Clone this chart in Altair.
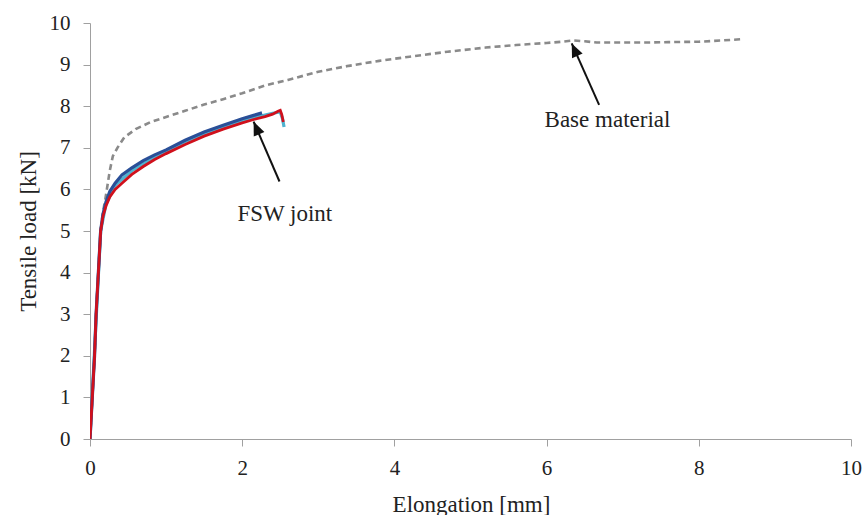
import math
import altair as alt
import pandas as pd

# ---- data ----
base_x = [0, 0.03, 0.06, 0.08, 0.11, 0.14, 0.17, 0.20, 0.23, 0.26, 0.30, 0.36, 0.45, 0.6, 0.8, 1.0,
          1.25, 1.5, 1.75, 2.0, 2.3, 2.6, 3.0, 3.4, 3.8, 4.2, 4.7, 5.2, 5.6, 6.0, 6.2, 6.35,
          6.5, 6.66, 7.0, 7.3, 7.6, 8.0, 8.3, 8.56]
base_y = [0, 1, 2, 3, 4, 5, 5.45, 5.75, 6.1, 6.45, 6.8, 7.0, 7.25, 7.45, 7.62, 7.74,
          7.89, 8.04, 8.17, 8.31, 8.5, 8.63, 8.83, 8.97, 9.09, 9.19, 9.31, 9.41, 9.47, 9.52, 9.55, 9.58,
          9.56, 9.53, 9.53, 9.53, 9.54, 9.55, 9.58, 9.61]

cyan_x = [0, 0.14, 0.21, 0.33, 0.55, 0.85, 1.25, 1.75, 2.15, 2.4, 2.5, 2.53, 2.55]
cyan_y = [0, 5, 5.65, 6.1, 6.45, 6.78, 7.15, 7.5, 7.72, 7.83, 7.86, 7.7, 7.5]

blue_x = [0, 0.03, 0.06, 0.08, 0.11, 0.14, 0.17, 0.21, 0.26, 0.33, 0.42, 0.55, 0.7, 0.85, 1.0,
          1.25, 1.5, 1.75, 2.0, 2.15, 2.26]
blue_y = [0, 1, 2, 3, 4, 5, 5.4, 5.7, 5.95, 6.15, 6.35, 6.52, 6.69, 6.83, 6.95,
          7.18, 7.38, 7.54, 7.7, 7.78, 7.84]

red_x = [0, 0.03, 0.06, 0.08, 0.11, 0.14, 0.17, 0.21, 0.26, 0.33, 0.42, 0.55, 0.7, 0.85, 1.0,
         1.25, 1.5, 1.75, 2.0, 2.15, 2.3, 2.4, 2.47, 2.5, 2.52, 2.54]
red_y = [0, 1, 2, 3, 4, 5, 5.35, 5.6, 5.82, 6.0, 6.15, 6.36, 6.55, 6.72, 6.86,
         7.08, 7.28, 7.45, 7.6, 7.68, 7.75, 7.81, 7.88, 7.9, 7.8, 7.62]

# annotations: label, text x/y, arrow tail x/y, arrow head x/y (data units)
ann_labels = ["FSW joint", "Base material"]
ann_text_x = [2.56, 6.80]
ann_text_y = [5.25, 7.50]
ann_tail_x = [2.49, 6.69]
ann_tail_y = [6.19, 8.03]
ann_head_x = [2.15, 6.33]
ann_head_y = [7.63, 9.51]

W, H = 761, 416
FONT = "Liberation Serif"

xs = alt.Scale(domain=[0, 10], nice=False)
ys = alt.Scale(domain=[0, 10], nice=False)


def series_df(xv, yv):
    return pd.DataFrame({"x": xv, "y": yv, "i": list(range(len(xv)))})


def line_layer(xv, yv, color, width, dash=None):
    kw = dict(color=color, strokeWidth=width, clip=True)
    if dash:
        kw["strokeDash"] = dash
    return alt.Chart(series_df(xv, yv)).mark_line(**kw).encode(
        x=alt.X("x:Q", scale=xs),
        y=alt.Y("y:Q", scale=ys),
        order="i:Q",
    )


x_axis = alt.Axis(values=[0, 2, 4, 6, 8, 10], format="d", title="Elongation [mm]", grid=False,
                  tickSize=7, labelPadding=11, labelFontSize=21, titleFontSize=23,
                  labelFont=FONT, titleFont=FONT, labelColor="#222222", titleColor="#222222",
                  titleFontWeight="normal", domainColor="#a0a0a0", tickColor="#a0a0a0",
                  titleX=381, titleY=72, titleBaseline="alphabetic", labelFlush=False)
y_axis = alt.Axis(values=list(range(0, 11)), format="d", title="Tensile load [kN]", grid=False,
                  tickSize=7, labelPadding=13, labelFontSize=21, titleFontSize=23,
                  labelFont=FONT, titleFont=FONT, labelColor="#222222", titleColor="#222222",
                  titleFontWeight="normal", domainColor="#a0a0a0", tickColor="#a0a0a0",
                  titleX=-55, titleY=208, titleAngle=270, titleBaseline="alphabetic",
                  labelFlush=False)

axes_layer = alt.Chart(series_df(base_x, base_y)).mark_point(opacity=0).encode(
    x=alt.X("x:Q", scale=xs, axis=x_axis),
    y=alt.Y("y:Q", scale=ys, axis=y_axis),
)

base = line_layer(base_x, base_y, "#8a8a8a", 2.6, [6, 4])
cyan = line_layer(cyan_x, cyan_y, "#4fb3cf", 3.2)
blue = line_layer(blue_x, blue_y, "#2a4f98", 3.2)
red = line_layer(red_x, red_y, "#d0101c", 2.8)

angles = []
for tx, ty, hx, hy in zip(ann_tail_x, ann_tail_y, ann_head_x, ann_head_y):
    dxp = (hx - tx) * W / 10.0
    dyp = -(hy - ty) * H / 10.0
    angles.append(math.degrees(math.atan2(dxp, -dyp)) % 360)

ann = pd.DataFrame({
    "label": ann_labels, "tx": ann_text_x, "ty": ann_text_y,
    "ax": ann_tail_x, "ay": ann_tail_y, "hx": ann_head_x, "hy": ann_head_y,
    "angle": angles,
})

arrow_lines = alt.Chart(ann).mark_rule(color="#111111", strokeWidth=2).encode(
    x=alt.X("ax:Q", scale=xs), y=alt.Y("ay:Q", scale=ys),
    x2="hx:Q", y2="hy:Q",
)
arrow_heads = alt.Chart(ann).mark_point(
    shape="M0,0 L-0.42,1 L0.42,1 Z", filled=True, color="#111111", opacity=1, size=760,
).encode(
    x=alt.X("hx:Q", scale=xs), y=alt.Y("hy:Q", scale=ys),
    angle=alt.Angle("angle:Q", scale=None),
)
labels = alt.Chart(ann).mark_text(font=FONT, fontSize=23, color="#222222",
                                  align="center", baseline="alphabetic").encode(
    x=alt.X("tx:Q", scale=xs), y=alt.Y("ty:Q", scale=ys), text="label:N",
)

chart = alt.layer(axes_layer, base, cyan, blue, red, arrow_lines, arrow_heads, labels).properties(
    width=W, height=H, autosize="none",
    padding={"left": 90, "top": 23, "right": 15, "bottom": 76},
    background="white",
).configure_view(stroke=None)

chart.save("out.html", embed_options={"renderer": "svg", "actions": False})
